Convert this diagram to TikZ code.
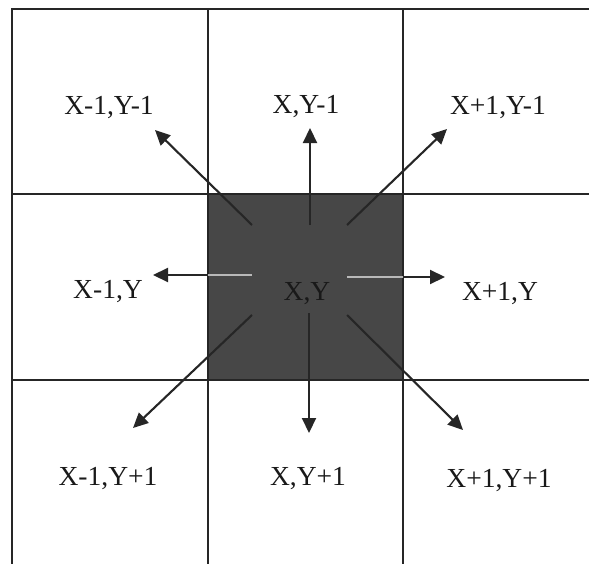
\documentclass[tikz,border=0pt]{standalone}
\usepackage{fontspec}
\setmainfont{Liberation Serif}
\usetikzlibrary{arrows.meta}

\begin{document}
\begin{tikzpicture}[x=0.03cm, y=-0.03cm,
		>={Triangle[length=0.45cm,width=0.42cm]},
		grid/.style={black!85, line width=1.6pt, line cap=rect},
		arr/.style={->, black!85, line width=1.8pt},
		cell/.style={anchor=base, inner sep=0pt, text=black!90,
			font=\fontsize{23.5}{27}\selectfont}]
	\def\xA{12}
	\def\xB{208}
	\def\xC{403}
	\def\yA{9}
	\def\yB{194}
	\def\yC{380}
	\useasboundingbox (0,0) rectangle (589,564);
	
	% Celda central (X,Y)
	\node[fill=black!72, inner sep=0pt, minimum width=5.85cm, minimum height=5.58cm]
	(sq) at (305.5,287) {};
	
	% Rejilla
	\foreach \x in {\xA,\xB,\xC}
	\draw[grid] (\x,\yA) -- (\x,570);
	\foreach \y in {\yA,\yB,\yC}
	\draw[grid] (\xA,\y) -- (595,\y);
	
	% Etiquetas de las celdas
	\node[cell] (nw) at (109,115) {X-1,Y-1};
	\node[cell] (n)  at (306,114) {X,Y-1};
	\node[cell] (ne) at (498,115) {X+1,Y-1};
	\node[cell] (w)  at (108,298) {X-1,Y};
	\node[cell] (c)  at (307,300) {X,Y};
	\node[cell] (e)  at (500,300) {X+1,Y};
	\node[cell] (sw) at (108,485) {X-1,Y+1};
	\node[cell] (s)  at (308,485) {X,Y+1};
	\node[cell] (se) at (499,487) {X+1,Y+1};
	
	% Inicio y punta de cada flecha
	\coordinate (nS)  at (310,225);  \coordinate (nT)  at (310,128);
	\coordinate (sS)  at (309,313);  \coordinate (sT)  at (309,433);
	\coordinate (wS)  at (252,275);  \coordinate (wT)  at (153,275);
	\coordinate (eS)  at (347,277);  \coordinate (eT)  at (445,277);
	\coordinate (nwS) at (252,225);  \coordinate (nwT) at (155,130);
	\coordinate (neS) at (347,225);  \coordinate (neT) at (447,129);
	\coordinate (swS) at (252,315);  \coordinate (swT) at (133,428);
	\coordinate (seS) at (347,315);  \coordinate (seT) at (463,430);
	
	% Flechas hacia los vecinos
	\foreach \d in {n,s,w,e,nw,ne,sw,se}
	\draw[arr] (\d S) -- (\d T);
	
	% Tramos claros dentro de la celda oscura
	\draw[gray!55, line width=1.4pt] (wS) -- (wS -| sq.west);
	\draw[gray!55, line width=1.4pt] (eS) -- (eS -| sq.east);
	
\end{tikzpicture}
\end{document}
